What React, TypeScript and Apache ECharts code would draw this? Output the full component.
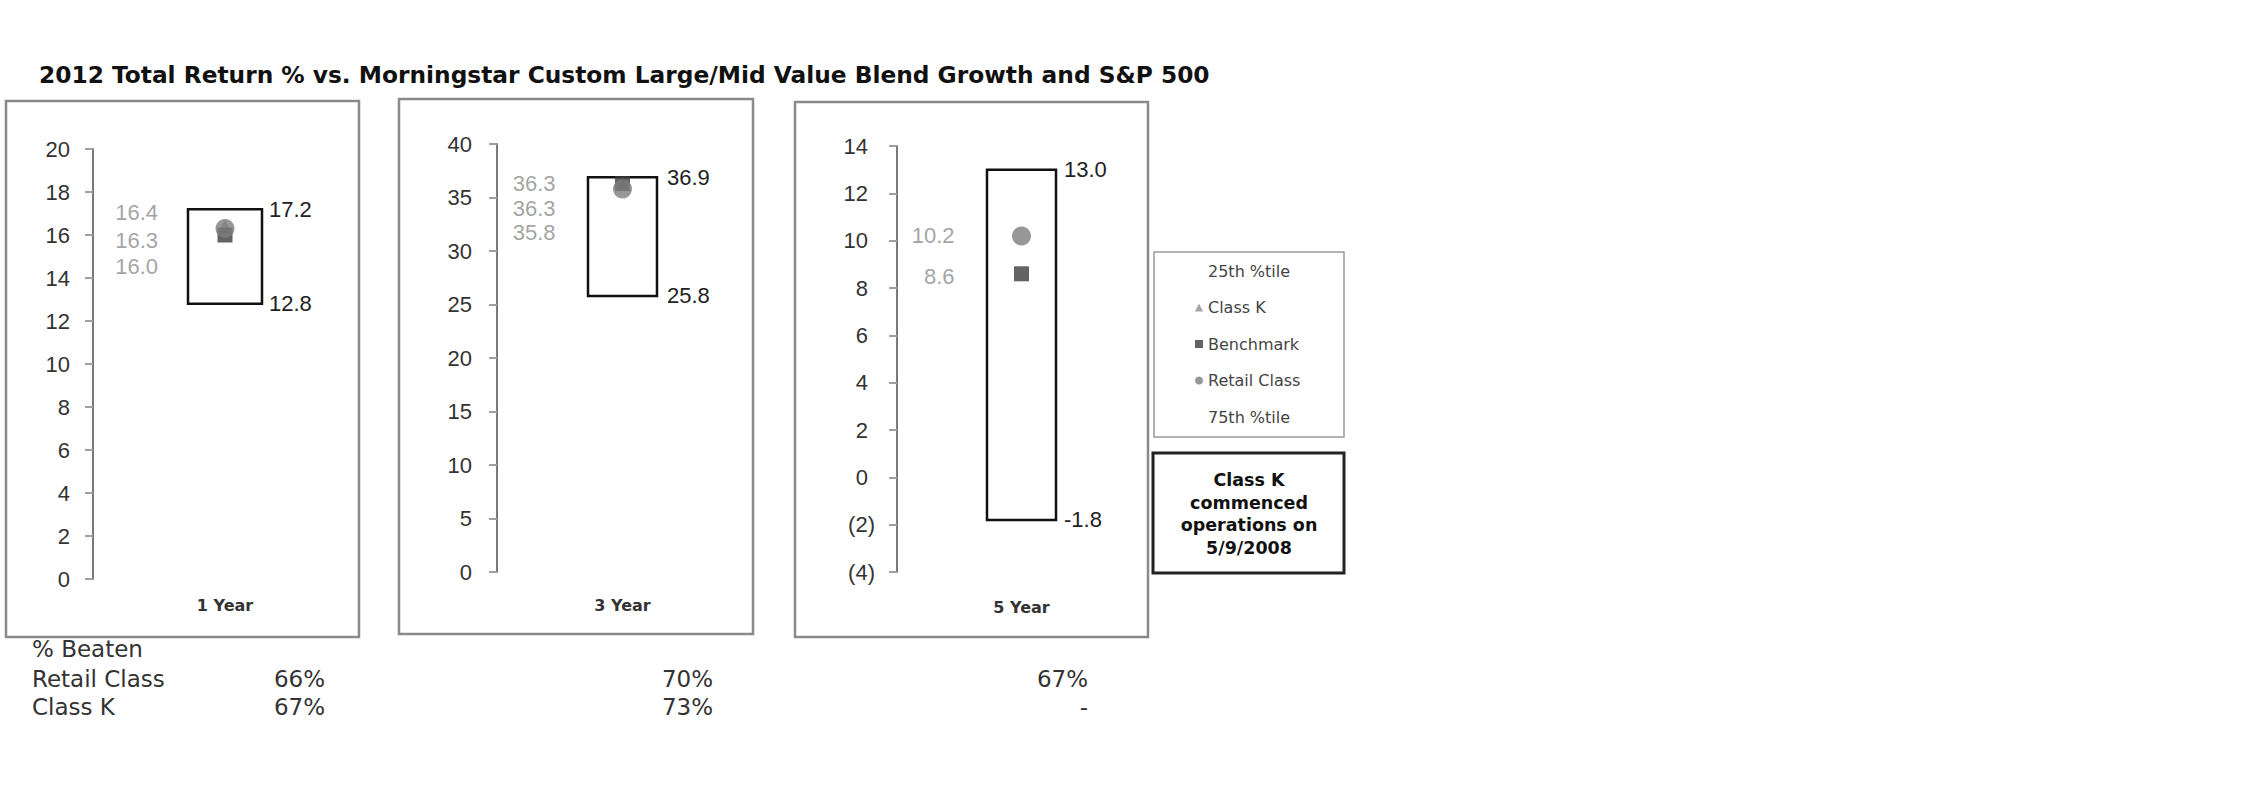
import React, { useEffect, useRef } from "react";
import * as echarts from "echarts";

// ---------- data ----------
const PERIODS = ["1 Year", "3 Year", "5 Year"];
const TOP_25TH = [17.2, 36.9, 13.0];
const BOTTOM_75TH = [12.8, 25.8, -1.8];
const CLASS_K: (number | null)[] = [16.4, 36.3, null];
const BENCHMARK = [16.0, 36.3, 8.6];
const RETAIL = [16.3, 35.8, 10.2];
const Y_MIN = [0, 0, -4];
const Y_MAX = [20, 40, 14];
const Y_STEP = [2, 5, 2];
const BEATEN_ROWS = ["Retail Class", "Class K"];
const BEATEN_RETAIL = ["66%", "70%", "67%"];
const BEATEN_CLASS_K = ["67%", "73%", "-"];
const TITLE = "2012 Total Return % vs. Morningstar Custom Large/Mid Value Blend Growth and S&P 500";
const NOTE = "Class K\ncommenced\noperations on\n5/9/2008";

// ---------- layout / style ----------
const GRIDS = [
  { left: 93, top: 149, width: 264, height: 430 },
  { left: 497, top: 144, width: 251, height: 428 },
  { left: 897, top: 146, width: 249, height: 426 },
];
const BOX_W = [74, 69, 69];
const BOX_LABEL_GAP = [7, 10, 8];
const XLABEL_MARGIN = [18, 25, 27];
const YLABEL_MARGIN = [23, 25, 22];
const DY_CLASS_K = [-14, 0, 0];
const DY_BENCH = [31, 24.5, 3];
const DY_RETAIL = [11.5, 44, 0];
const FRAMES = [
  { x: 6, y: 101, w: 353, h: 536 },
  { x: 399, y: 99, w: 354, h: 535 },
  { x: 795, y: 102, w: 353, h: 535 },
];
const BEATEN_X = [325, 713, 1088];
const SANS = "Liberation Sans";
const VERD = "DejaVu Sans";

function buildOption(): any {
  const grids = GRIDS.map((g) => ({ ...g }));
  const xAxes = PERIODS.map((p, i) => ({
    type: "category",
    gridIndex: i,
    data: [p],
    axisLine: { show: false, onZero: false },
    axisTick: { show: false },
    splitLine: { show: false },
    axisLabel: {
      margin: XLABEL_MARGIN[i],
      fontFamily: VERD,
      fontWeight: "bold",
      fontSize: 16,
      color: "#333",
    },
  }));
  const yAxes = PERIODS.map((_, i) => ({
    type: "value",
    gridIndex: i,
    min: Y_MIN[i],
    max: Y_MAX[i],
    interval: Y_STEP[i],
    axisLine: { show: true, lineStyle: { color: "#7a7a7a", width: 2 } },
    axisTick: { show: true, length: 8, lineStyle: { color: "#a0a0a0", width: 2 } },
    splitLine: { show: false },
    axisLabel: {
      margin: YLABEL_MARGIN[i],
      fontFamily: SANS,
      fontSize: 22,
      color: "#333",
      formatter:
        Y_MIN[i] < 0
          ? (v: number) => (v < 0 ? `(${-v})` : `{p|${v}}`)
          : (v: number) => `${v}`,
      rich: {
        p: { padding: [0, 7, 0, 0], fontFamily: SANS, fontSize: 22, color: "#333" },
      },
    },
  }));

  const boxSeries = PERIODS.map((_, i) => ({
    type: "custom",
    xAxisIndex: i,
    yAxisIndex: i,
    z: 1,
    silent: true,
    data: [[0, BOTTOM_75TH[i], TOP_25TH[i]]],
    encode: { x: 0, y: [1, 2] },
    renderItem: (params: any, api: any) => {
      const lo = api.value(1);
      const hi = api.value(2);
      const a = api.coord([0, hi]);
      const b = api.coord([0, lo]);
      const w = BOX_W[i];
      const tx = a[0] + w / 2 + BOX_LABEL_GAP[i];
      const txtStyle = {
        fill: "#222",
        fontSize: 22,
        fontFamily: SANS,
        align: "left",
        verticalAlign: "middle",
        textAlign: "left",
        textVerticalAlign: "middle",
      };
      return {
        type: "group",
        children: [
          {
            type: "rect",
            shape: { x: a[0] - w / 2, y: a[1], width: w, height: b[1] - a[1] },
            style: { fill: "#fff", stroke: "#111", lineWidth: 2.5 },
          },
          { type: "text", x: tx, y: a[1], style: { ...txtStyle, text: hi.toFixed(1) } },
          { type: "text", x: tx, y: b[1], style: { ...txtStyle, text: lo.toFixed(1) } },
        ],
      };
    },
  }));

  const marker = (
    name: string,
    values: (number | null)[],
    symbol: string,
    size: number,
    color: string,
    dys: number[],
    z: number
  ) =>
    values
      .map((v, i) =>
        v == null
          ? null
          : {
              type: "scatter",
              name,
              xAxisIndex: i,
              yAxisIndex: i,
              symbol,
              symbolSize: size,
              z,
              silent: true,
              itemStyle: { color },
              label: {
                show: true,
                position: "inside",
                align: "right",
                verticalAlign: "middle",
                color: "#8c8c8c",
                fontSize: 22,
                fontFamily: SANS,
                textBorderWidth: 0,
                formatter: (p: any) => Number(p.value[1]).toFixed(1),
              },
              data: [{ value: [0, v], label: { offset: [-67, dys[i]] } }],
            }
      )
      .filter(Boolean);

  const series: any[] = [
    ...boxSeries,
    { type: "line", name: "25th %tile", data: [], xAxisIndex: 0, yAxisIndex: 0 },
    ...marker("Class K", CLASS_K, "triangle", 14, "#8f8f8f", DY_CLASS_K, 3),
    ...marker("Benchmark", BENCHMARK, "rect", 15, "#3c3c3c", DY_BENCH, 4),
    ...marker("Retail Class", RETAIL, "circle", 19, "#7d7d7d", DY_RETAIL, 5),
    { type: "line", name: "75th %tile", data: [], xAxisIndex: 0, yAxisIndex: 0 },
  ];

  const graphics: any[] = [];
  FRAMES.forEach((f) =>
    graphics.push({
      type: "rect",
      shape: { x: f.x, y: f.y, width: f.w, height: f.h },
      style: { fill: "none", stroke: "#8a8a8a", lineWidth: 2.5 },
      silent: true,
      z: -1,
    })
  );
  // legend box
  graphics.push({
    type: "rect",
    shape: { x: 1154, y: 252, width: 190, height: 185 },
    style: { fill: "none", stroke: "#9a9a9a", lineWidth: 1.5 },
    silent: true,
  });
  // note box
  graphics.push({
    type: "rect",
    shape: { x: 1153, y: 453, width: 191, height: 120 },
    style: { fill: "#fff", stroke: "#222", lineWidth: 3 },
    silent: true,
  });
  graphics.push({
    type: "text",
    x: 1249,
    y: 514,
    silent: true,
    style: {
      text: NOTE,
      fill: "#111",
      fontFamily: VERD,
      fontWeight: "bold",
      fontSize: 17.5,
      lineHeight: 22.6,
      align: "center",
      verticalAlign: "middle",
      textAlign: "center",
      textVerticalAlign: "middle",
    },
  });
  // % Beaten table
  const tStyle = { fill: "#333", fontFamily: VERD, fontSize: 23, verticalAlign: "middle", textVerticalAlign: "middle" };
  graphics.push({ type: "text", x: 32, y: 649, silent: true, style: { ...tStyle, text: "% Beaten" } });
  graphics.push({ type: "text", x: 32, y: 679, silent: true, style: { ...tStyle, text: BEATEN_ROWS[0] } });
  graphics.push({ type: "text", x: 32, y: 707, silent: true, style: { ...tStyle, text: BEATEN_ROWS[1] } });
  PERIODS.forEach((_, i) => {
    graphics.push({
      type: "text",
      x: BEATEN_X[i],
      y: 679,
      silent: true,
      style: { ...tStyle, text: BEATEN_RETAIL[i], align: "right", textAlign: "right" },
    });
    graphics.push({
      type: "text",
      x: BEATEN_X[i],
      y: 707,
      silent: true,
      style: { ...tStyle, text: BEATEN_CLASS_K[i], align: "right", textAlign: "right" },
    });
  });

  return {
    animation: false,
    backgroundColor: "#fff",
    title: {
      text: TITLE,
      left: 39,
      top: 63,
      padding: 0,
      textStyle: { fontFamily: VERD, fontWeight: "bold", fontSize: 23.3, color: "#111" },
    },
    legend: {
      orient: "vertical",
      left: 1190,
      top: 258,
      padding: 5,
      itemGap: 20.5,
      itemWidth: 8,
      itemHeight: 8,
      selectedMode: false,
      data: [
        { name: "25th %tile", icon: "none" },
        "Class K",
        "Benchmark",
        "Retail Class",
        { name: "75th %tile", icon: "none" },
      ],
      textStyle: { fontFamily: VERD, fontSize: 16, color: "#444" },
    },
    grid: grids,
    xAxis: xAxes,
    yAxis: yAxes,
    series,
    graphic: graphics,
  };
}

export default function App() {
  const ref = useRef<HTMLDivElement>(null);
  useEffect(() => {
    const chart = echarts.init(ref.current as HTMLDivElement, null, { renderer: "svg" });
    chart.setOption(buildOption());
    return () => chart.dispose();
  }, []);
  return (
    <div
      ref={ref}
      style={{ position: "absolute", left: 0, top: 0, width: 2250, height: 796, background: "#fff" }}
    />
  );
}
